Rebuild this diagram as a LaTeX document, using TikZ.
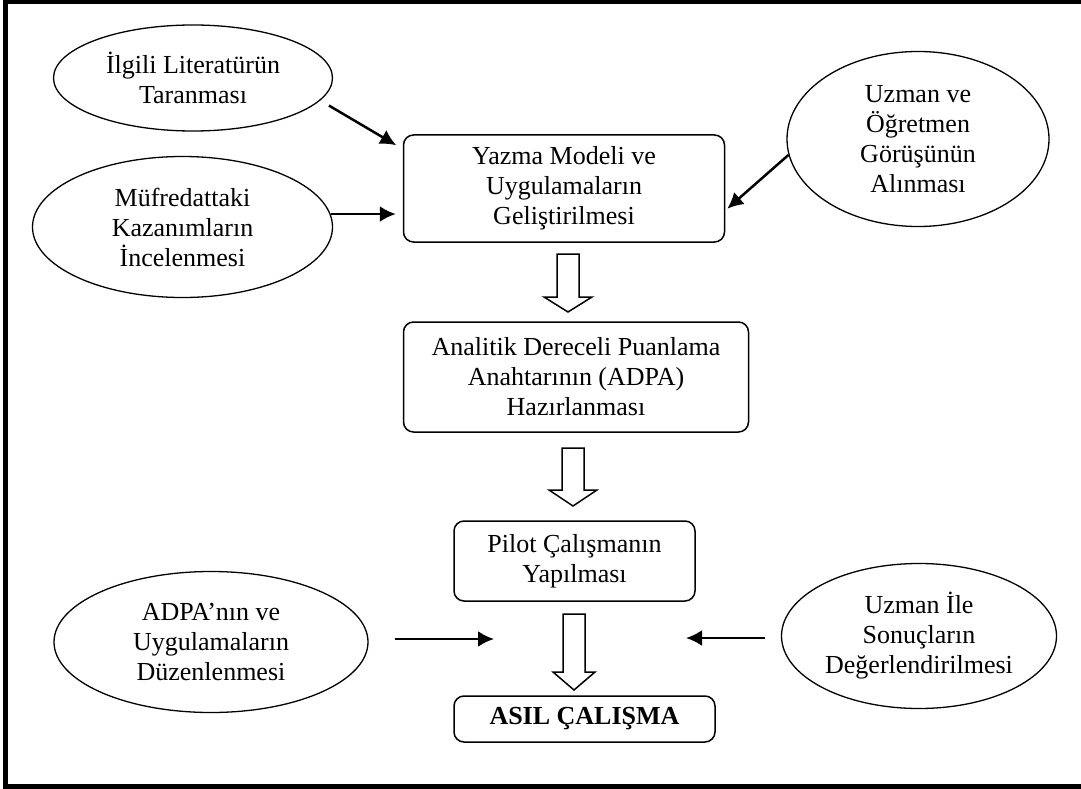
\documentclass[tikz,border=0pt]{standalone}
\usepackage{fontspec}
\setmainfont{Liberation Serif}
\usetikzlibrary{shapes.geometric,arrows.meta}

\tikzset{
  oval/.style={draw, ellipse, line width=1.3pt, align=center, inner sep=0pt},
  stepbox/.style={draw, rounded corners=10pt, line width=1.5pt, align=center, inner sep=0pt},
  conn/.style={-{Latex[length=16pt,width=16pt]}, line width=2.5pt},
  bigarrow/.style={draw, line width=1.5pt, fill=white}
}

\begin{document}
\begin{tikzpicture}[x=1pt,y=-1pt,font=\fontsize{26}{30}\selectfont]
	\useasboundingbox (0,0) rectangle (1081,789);
	\draw[line width=5pt] (1081,2) -- (5,2) -- (5,786) -- (1081,786);

	% side inputs
	\node[oval, minimum width=279pt, minimum height=106pt] (lit) at (193,78) {İlgili Literatürün\\Taranması};
	\node[oval, minimum width=300pt, minimum height=141pt] (muf) at (182.5,227) {Müfredattaki\\Kazanımların\\İncelenmesi};
	\node[oval, minimum width=262pt, minimum height=175pt] (gor) at (918,139) {Uzman ve\\Öğretmen\\Görüşünün\\Alınması};
	\node[oval, minimum width=314pt, minimum height=141pt] (duz) at (211,642) {ADPA’nın ve\\Uygulamaların\\Düzenlenmesi};
	\node[oval, minimum width=275pt, minimum height=145pt] (deg) at (919,636) {Uzman İle\\Sonuçların\\Değerlendirilmesi};

	% main steps
	\node[stepbox, minimum width=321pt, minimum height=107pt] (yazma) at (564,188.5) {Yazma Modeli ve\\Uygulamaların\\Geliştirilmesi};
	\node[stepbox, minimum width=345pt, minimum height=110pt] (adpa) at (576,377) {Analitik Dereceli Puanlama\\Anahtarının (ADPA)\\Hazırlanması};
	\node[stepbox, minimum width=241pt, minimum height=80pt] (pilot) at (574.5,561) {Pilot Çalışmanın\\Yapılması};
	\node[stepbox, minimum width=261pt, minimum height=46pt] (asil) at (584.5,719) {\textbf{ASIL ÇALIŞMA}};

	\coordinate (b1) at (494,639);
	\coordinate (b2) at (686,638);

	\draw[conn, shorten <=10pt] (lit.-10) -- ([shift={(-6.5pt,-11pt)}]yazma.north west);
	\draw[conn, shorten >=7pt] (muf.5) -- (muf.5 -| yazma.west);
	\draw[conn] (gor.187) -- ([shift={(2pt,34pt)}]yazma.south east);
	\draw[conn, shorten <=26pt] (duz.east |- b1) -- (b1);
	\draw[conn, shorten <=16pt] (deg.west |- b2) -- (b2);

	% hollow down arrows
	\foreach \cx/\ty/\hy/\by/\hw in {568/254/297/312/24, 573/448/490/506/24, 574/614/672/690/21}
		\draw[bigarrow] (\cx-11,\ty) -- (\cx+11,\ty) -- (\cx+11,\hy) -- (\cx+\hw,\hy) -- (\cx,\by) -- (\cx-\hw,\hy) -- (\cx-11,\hy) -- cycle;
\end{tikzpicture}
\end{document}
